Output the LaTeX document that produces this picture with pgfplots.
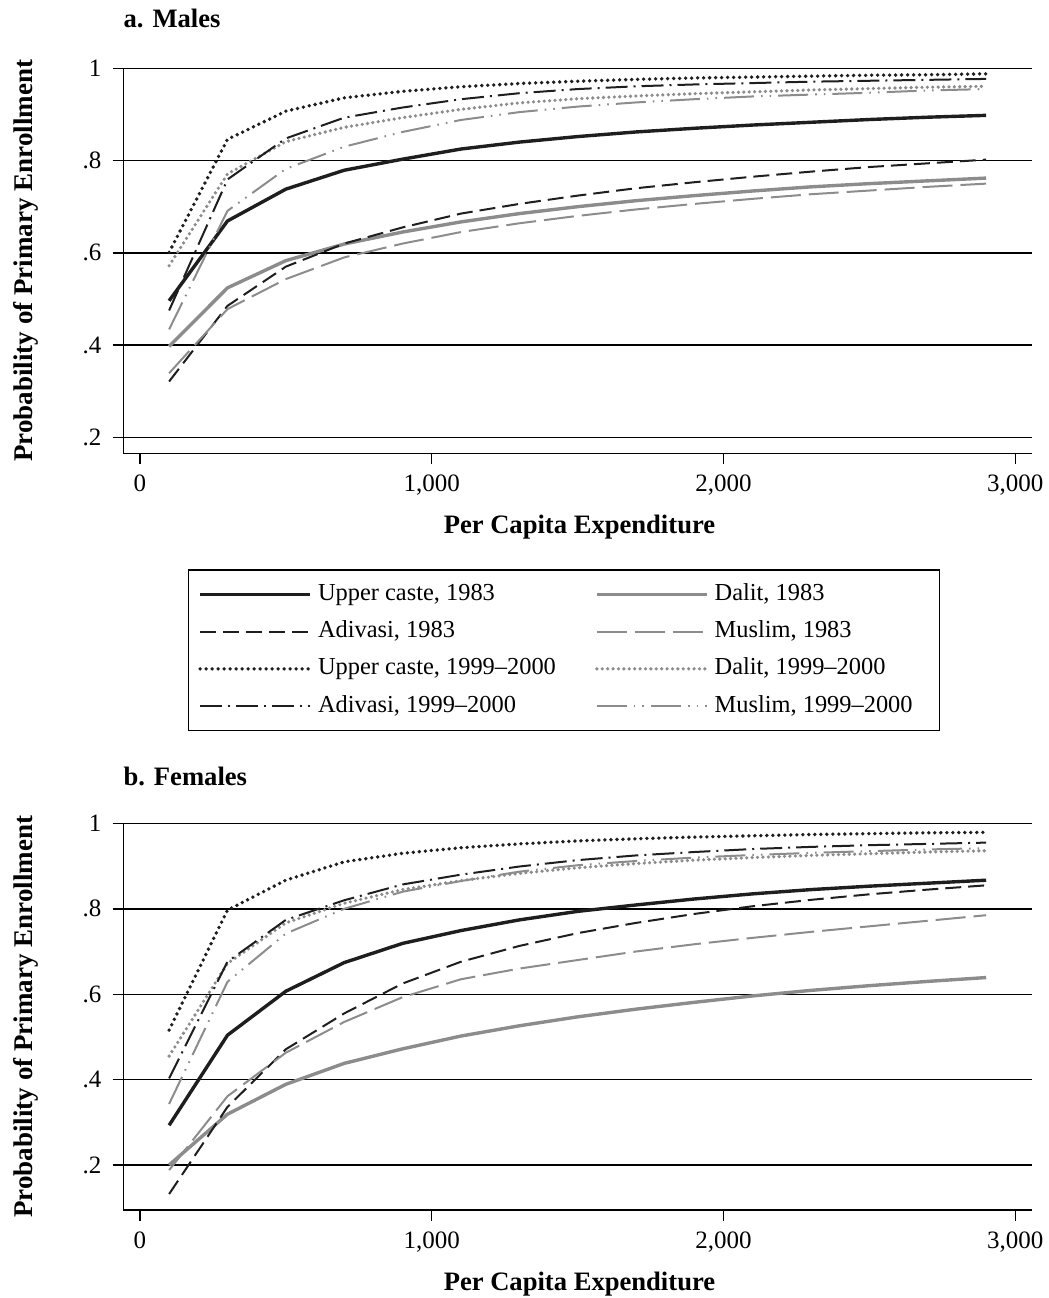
\documentclass[border=0pt]{standalone}
\usepackage{fontspec}
\setmainfont{Liberation Serif}
\usepackage{pgfplots}
\pgfplotsset{compat=1.18}
\usepackage{pgfplotstable}

\definecolor{dk}{HTML}{1E1E1E}
\definecolor{gr}{HTML}{8C8C8C}

\pgfplotstableread{
x    uc83  d83   a83   m83   uc99  d99   a99   m99
100  0.496 0.397 0.321 0.339 0.601 0.572 0.475 0.434
300  0.669 0.524 0.485 0.478 0.846 0.771 0.759 0.691
500  0.738 0.583 0.570 0.543 0.907 0.841 0.848 0.782
700  0.779 0.619 0.620 0.590 0.936 0.872 0.893 0.830
900  0.803 0.645 0.655 0.620 0.950 0.893 0.915 0.862
1100 0.825 0.667 0.685 0.645 0.960 0.911 0.933 0.888
1300 0.840 0.685 0.706 0.664 0.967 0.925 0.946 0.905
1500 0.852 0.700 0.724 0.680 0.972 0.934 0.955 0.917
1700 0.862 0.713 0.740 0.694 0.976 0.940 0.961 0.926
1900 0.870 0.724 0.753 0.706 0.979 0.945 0.965 0.933
2100 0.877 0.734 0.765 0.717 0.981 0.949 0.968 0.939
2300 0.883 0.743 0.776 0.727 0.983 0.953 0.971 0.943
2500 0.889 0.750 0.786 0.735 0.985 0.956 0.973 0.947
2700 0.894 0.756 0.794 0.743 0.986 0.959 0.975 0.952
2900 0.898 0.762 0.802 0.750 0.988 0.961 0.977 0.955
}\males

\pgfplotstableread{
x    uc83  d83   a83   m83   uc99  d99   a99   m99
100  0.293 0.200 0.132 0.188 0.516 0.455 0.403 0.343
300  0.504 0.319 0.336 0.361 0.797 0.672 0.676 0.629
500  0.607 0.389 0.471 0.463 0.867 0.767 0.774 0.742
700  0.674 0.438 0.555 0.535 0.910 0.813 0.820 0.800
900  0.719 0.472 0.625 0.593 0.930 0.845 0.857 0.840
1100 0.749 0.502 0.676 0.635 0.943 0.866 0.880 0.865
1300 0.774 0.526 0.713 0.660 0.952 0.883 0.899 0.887
1500 0.794 0.547 0.743 0.680 0.959 0.896 0.914 0.902
1700 0.809 0.565 0.767 0.700 0.964 0.906 0.925 0.912
1900 0.823 0.581 0.788 0.717 0.968 0.914 0.933 0.920
2100 0.835 0.596 0.806 0.732 0.971 0.920 0.940 0.926
2300 0.845 0.609 0.821 0.746 0.974 0.925 0.945 0.931
2500 0.853 0.620 0.834 0.759 0.976 0.929 0.949 0.935
2700 0.860 0.630 0.845 0.772 0.978 0.933 0.952 0.939
2900 0.867 0.639 0.855 0.785 0.979 0.936 0.955 0.942
}\females

\pgfplotsset{
  uc83/.style={dk, line width=1.7pt, solid, line join=round},
  d83/.style={gr, line width=1.7pt, solid, line join=round},
  a83/.style={dk, line width=1pt, dash pattern=on 8pt off 3.5pt},
  m83/.style={gr, line width=1pt, dash pattern=on 15pt off 4pt},
  uc99/.style={dk, line width=1.9pt, line cap=round, dash pattern=on 0pt off 3pt},
  d99/.style={gr, line width=1.8pt, line cap=round, dash pattern=on 0pt off 2.7pt},
  a99/.style={dk, line width=1pt, dash pattern=on 11pt off 3pt on 1pt off 3pt},
  m99/.style={gr, line width=1pt, dash pattern=on 15pt off 3.5pt on 0.8pt off 3.5pt on 0.8pt off 3.5pt},
  panel/.style={
    scale only axis,
    width=454.35pt,
    xmin=-57, xmax=3057,
    axis x line=bottom, axis y line=left,
    axis line style={-, line width=0.7pt, black},
    xtick={0,1000,2000,3000},
    xticklabels={0,{1,000},{2,000},{3,000}},
    ytick={0.2,0.4,0.6,0.8,1},
    yticklabels={.2,.4,.6,.8,1},
    tick align=outside,
    major tick length=5.3pt,
    every tick/.style={black, line width=0.7pt},
    ymajorgrids,
    major grid style={black, line width=0.7pt},
    tick label style={font=\fontsize{12.5}{15}\selectfont, inner sep=0pt},
    xticklabel style={anchor=base},
    xticklabel shift=13.7pt,
    yticklabel style={anchor=east},
    yticklabel shift=5.5pt,
    every axis y label/.style={at={(axis description cs:-0.0994,0.5)}, rotate=90, anchor=base,
      font=\fontsize{13.5}{16}\selectfont\bfseries},
    every axis x label/.style={at={(axis description cs:0.502,-0.2073)}, anchor=base,
      font=\fontsize{13.3}{16}\selectfont\bfseries},
    xlabel={Per Capita Expenditure},
    ylabel={Probability of Primary Enrollment},
    every axis title/.style={at={(axis description cs:0,1)}, anchor=base west, inner sep=0pt,
      font=\fontsize{13.3}{16}\selectfont\bfseries},
  },
}

\begin{document}
\begin{tikzpicture}
\useasboundingbox (-61.65pt,-422.35pt) rectangle (462.85pt,226.65pt);

\begin{axis}[panel,
  at={(0pt,0pt)}, anchor=south west,
  height=192.5pt,
  ymin=0.1653, ymax=1,
  title={a. Males}, title style={yshift=20.6pt},
  legend columns=2,
  legend cell align=left,
  legend image code/.code={\draw[#1] (0pt,0pt) -- (55pt,0pt);},
  legend style={
    at={(axis description cs:0.0715,-0.303)}, anchor=north west,
    draw=black, line width=0.7pt, fill=white,
    inner xsep=5pt, inner ysep=6.25pt, outer sep=0pt,
    font=\fontsize{12.2}{14}\selectfont,
    row sep=6.6pt,
    nodes={inner sep=0pt, text height=9pt, text depth=3pt},
    /tikz/every odd column/.append style={column sep=3pt},
    /tikz/every even column/.append style={column sep=0pt},
  },
]
\addplot[uc83] table[x=x,y=uc83] {\males};
\addlegendentry{\makebox[138.5pt][l]{Upper caste, 1983}}
\addplot[d83] table[x=x,y=d83] {\males};
\addlegendentry{\makebox[107.5pt][l]{Dalit, 1983}}
\addplot[a83] table[x=x,y=a83] {\males};
\addlegendentry{\makebox[138.5pt][l]{Adivasi, 1983}}
\addplot[m83] table[x=x,y=m83] {\males};
\addlegendentry{\makebox[107.5pt][l]{Muslim, 1983}}
\addplot[uc99] table[x=x,y=uc99] {\males};
\addlegendentry{\makebox[138.5pt][l]{Upper caste, 1999--2000}}
\addplot[d99] table[x=x,y=d99] {\males};
\addlegendentry{\makebox[107.5pt][l]{Dalit, 1999--2000}}
\addplot[a99] table[x=x,y=a99] {\males};
\addlegendentry{\makebox[138.5pt][l]{Adivasi, 1999--2000}}
\addplot[m99] table[x=x,y=m99] {\males};
\addlegendentry{\makebox[107.5pt][l]{Muslim, 1999--2000}}
\end{axis}

\begin{axis}[panel,
  at={(0pt,-378.35pt)}, anchor=south west,
  height=193.3pt,
  ymin=0.0946, ymax=1,
  title={b. Females}, title style={yshift=19.2pt},
]
\addplot[uc83] table[x=x,y=uc83] {\females};
\addplot[d83] table[x=x,y=d83] {\females};
\addplot[a83] table[x=x,y=a83] {\females};
\addplot[m83] table[x=x,y=m83] {\females};
\addplot[uc99] table[x=x,y=uc99] {\females};
\addplot[d99] table[x=x,y=d99] {\females};
\addplot[a99] table[x=x,y=a99] {\females};
\addplot[m99] table[x=x,y=m99] {\females};
\end{axis}
\end{tikzpicture}
\end{document}
